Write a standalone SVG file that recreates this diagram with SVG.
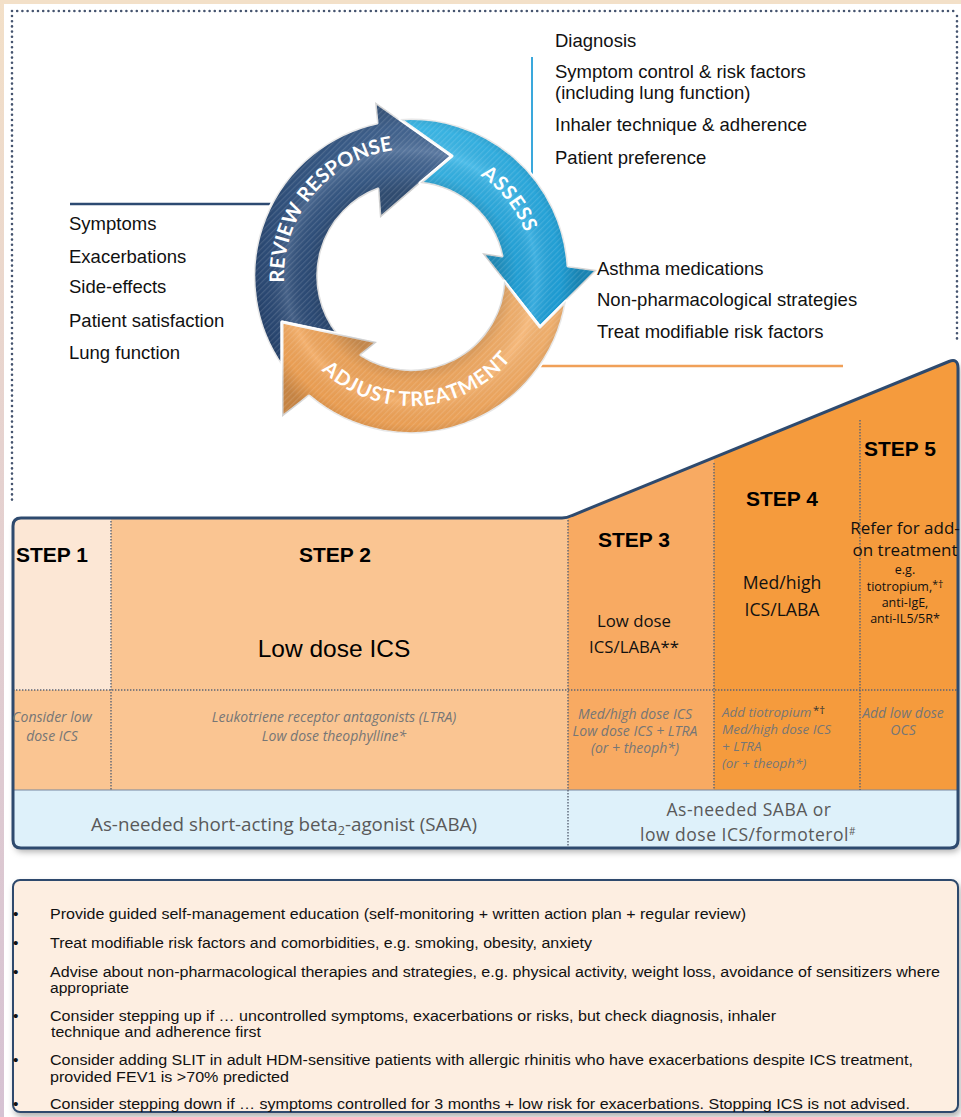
<svg xmlns="http://www.w3.org/2000/svg" width="961" height="1117" viewBox="0 0 961 1117">
<defs>
<style>
.dots{fill:none;stroke:#45546f;stroke-width:2.6;stroke-linecap:round;stroke-dasharray:0 5.2}
.div{fill:none;stroke:#5b6475;stroke-width:1.4;stroke-dasharray:1.4 1.6}
.lst{font-family:"Liberation Sans",Arial,sans-serif;font-size:18.5px;fill:#111}
.step{font-family:"Liberation Sans",Arial,sans-serif;font-weight:bold;font-size:21px;fill:#000;text-anchor:middle}
.cal{font-family:"Open Sans","Liberation Sans",sans-serif;fill:#111;text-anchor:middle}
.it{font-family:"Open Sans","Liberation Sans",sans-serif;font-style:italic;font-size:14px;fill:#767676;text-anchor:middle}
.it4{font-family:"Open Sans","Liberation Sans",sans-serif;font-style:italic;font-size:13.4px;fill:#767676}
.saba{font-family:"Open Sans","Liberation Sans",sans-serif;font-size:18.8px;fill:#595959;text-anchor:middle}
.saba2{font-family:"Open Sans","Liberation Sans",sans-serif;font-size:17.5px;letter-spacing:0.5px;fill:#595959;text-anchor:middle}
.ring{font-family:Lato,"Open Sans",sans-serif;font-weight:bold;font-size:20px;fill:#fff}
.bul{font-family:"Liberation Sans",Arial,sans-serif;font-size:15.5px;fill:#111}
.edge{stroke:#fff;stroke-width:3;stroke-linejoin:round}
</style>
<linearGradient id="gDark" x1="0" y1="1" x2="1" y2="0">
<stop offset="0" stop-color="#26436e"/>
<stop offset="0.6" stop-color="#375a87"/>
<stop offset="1" stop-color="#4d6e9a"/>
</linearGradient>
<linearGradient id="gCyan" x1="0" y1="0" x2="1" y2="1">
<stop offset="0" stop-color="#40bdec"/>
<stop offset="1" stop-color="#1699d4"/>
</linearGradient>
<linearGradient id="gOrange" x1="1" y1="0" x2="0" y2="1">
<stop offset="0" stop-color="#f7b877"/>
<stop offset="1" stop-color="#ee9c4c"/>
</linearGradient>
<linearGradient id="gEdge" x1="0" y1="0" x2="0" y2="1">
<stop offset="0" stop-color="#f3e0c8"/>
<stop offset="0.4" stop-color="#e6d2cf"/>
<stop offset="1" stop-color="#d6c2d3"/>
</linearGradient>
<radialGradient id="bevel" gradientUnits="userSpaceOnUse" cx="411" cy="276" r="190">
<stop offset="0.45" stop-color="#000" stop-opacity="0.2"/>
<stop offset="0.56" stop-color="#000" stop-opacity="0.04"/>
<stop offset="0.66" stop-color="#fff" stop-opacity="0.12"/>
<stop offset="0.78" stop-color="#000" stop-opacity="0.03"/>
<stop offset="0.88" stop-color="#000" stop-opacity="0.18"/>
</radialGradient>
<pattern id="stripes" patternUnits="userSpaceOnUse" width="4" height="4" patternTransform="rotate(45)">
<rect width="1.2" height="4" fill="#fff" fill-opacity="0.13"/>
</pattern>
<filter id="shadow" x="-5%" y="-5%" width="110%" height="120%">
<feDropShadow dx="2" dy="4" stdDeviation="3" flood-color="#000" flood-opacity="0.3"/>
</filter>
<path id="stepShape" d="M 13 526 Q 13 518 21 518 L 562 518 Q 567 518 572 515.5 L 949 361.5 Q 958 358 958 368 L 958 840 Q 958 848 950 848 L 21 848 Q 13 848 13 840 Z"/>
<clipPath id="stepClip"><use href="#stepShape"/></clipPath>
<path id="arrowReview" d="M 282 366 A 157 157 0 0 1 377 123 L 375 102 L 452 156 L 380 218 L 378 189 A 93 93 0 0 0 338 334 L 282 322 Z"/>
<path id="arrowAssess" d="M 400 119 A 157 157 0 0 1 568 266 L 597 270 L 540 327 L 482 253 L 502 256 A 93 93 0 0 0 420 183 L 452 156 Z"/>
<path id="arrowAdjust" d="M 566 301 A 157 157 0 0 1 309 396 L 282 417 L 282 322 L 377 342 L 361 355 A 93 93 0 0 0 504 281 L 540 327 Z"/>
<path id="pReview" d="M 291.7 319.4 A 127 127 0 0 1 430.9 150.6" fill="none"/>
<path id="pAssess" d="M 456.7 162.9 A 122 122 0 0 1 531.8 259" fill="none"/>
<path id="pAdjust" d="M 297.3 339 A 130 130 0 0 0 531.5 324.7" fill="none"/>
</defs>

<!-- page background and edge tint -->
<rect width="961" height="1117" fill="#fff"/>
<rect x="0" y="0" width="961" height="4" fill="#f3e0c8"/>
<rect x="0" y="0" width="4" height="1117" fill="url(#gEdge)"/>

<!-- dotted frame around the cycle -->
<g id="frame">
<path class="dots" d="M 12 11 L 957 11"/>
<path class="dots" d="M 12 16 L 12 502"/>
<path class="dots" d="M 957 16 L 957 340"/>
</g>

<!-- connectors from the cycle to the lists -->
<g id="connectors">
<line x1="70" y1="204" x2="272" y2="204" stroke="#2d4a72" stroke-width="2.5"/>
<line x1="532" y1="57" x2="532" y2="177" stroke="#3aa8dc" stroke-width="2"/>
<line x1="540" y1="366" x2="843" y2="366" stroke="#f0a058" stroke-width="2.5"/>
</g>

<!-- management cycle -->
<g id="review-response">
<use href="#arrowReview" fill="url(#gDark)" class="edge"/>
<use href="#arrowReview" fill="url(#bevel)"/>
<use href="#arrowReview" fill="url(#stripes)"/>
<text class="ring" letter-spacing="0.3"><textPath href="#pReview" startOffset="50%" text-anchor="middle">REVIEW RESPONSE</textPath></text>
</g>
<g id="assess">
<use href="#arrowAssess" fill="url(#gCyan)" class="edge"/>
<use href="#arrowAssess" fill="url(#bevel)"/>
<use href="#arrowAssess" fill="url(#stripes)"/>
<text class="ring" letter-spacing="0.8"><textPath href="#pAssess" startOffset="50%" text-anchor="middle">ASSESS</textPath></text>
</g>
<g id="adjust-treatment">
<use href="#arrowAdjust" fill="url(#gOrange)" class="edge"/>
<use href="#arrowAdjust" fill="url(#bevel)"/>
<use href="#arrowAdjust" fill="url(#stripes)"/>
<text class="ring" letter-spacing="1"><textPath href="#pAdjust" startOffset="50%" text-anchor="middle">ADJUST TREATMENT</textPath></text>
</g>

<!-- lists beside the cycle -->
<g id="assess-list" class="lst">
<text x="555" y="47">Diagnosis</text>
<text x="555" y="78">Symptom control &amp; risk factors</text>
<text x="555" y="99">(including lung function)</text>
<text x="555" y="131">Inhaler technique &amp; adherence</text>
<text x="555" y="164">Patient preference</text>
</g>
<g id="review-list" class="lst">
<text x="69" y="230">Symptoms</text>
<text x="69" y="263">Exacerbations</text>
<text x="69" y="293">Side-effects</text>
<text x="69" y="327">Patient satisfaction</text>
<text x="69" y="359">Lung function</text>
</g>
<g id="adjust-list" class="lst">
<text x="597" y="275">Asthma medications</text>
<text x="597" y="306">Non-pharmacological strategies</text>
<text x="597" y="338">Treat modifiable risk factors</text>
</g>

<!-- stepwise treatment staircase -->
<g id="steps">
<use href="#stepShape" fill="#fff" filter="url(#shadow)"/>
<g clip-path="url(#stepClip)">
<rect x="13" y="518" width="98" height="172" fill="#fce7d5"/>
<rect x="111" y="518" width="457" height="172" fill="#fac592"/>
<rect x="13" y="690" width="555" height="100" fill="#fac592"/>
<rect x="568" y="350" width="146" height="440" fill="#f8aa62"/>
<rect x="714" y="350" width="247" height="440" fill="#f59b3d"/>
<rect x="13" y="790" width="948" height="60" fill="#def1fa"/>
<line x1="13" y1="790" x2="958" y2="790" stroke="#7788a0" stroke-width="1"/>
<path class="div" d="M 13 690 L 958 690"/>
<path class="div" d="M 111 521 L 111 790"/>
<path class="div" d="M 568 520 L 568 848"/>
<path class="div" d="M 714 463 L 714 790"/>
<path class="div" d="M 860 420 L 860 790"/>
</g>
<use href="#stepShape" fill="none" stroke="#2e4a6e" stroke-width="3"/>
</g>

<g id="step1">
<text class="step" x="16" y="562" style="text-anchor:start">STEP 1</text>
<text class="it" x="52" y="722">Consider low</text>
<text class="it" x="52" y="741">dose ICS</text>
</g>
<g id="step2">
<text class="step" x="335" y="562">STEP 2</text>
<text x="334" y="657" font-family="Liberation Sans, Arial, sans-serif" font-size="24.5" fill="#000" text-anchor="middle">Low dose ICS</text>
<text class="it" x="334" y="722">Leukotriene receptor antagonists (LTRA)</text>
<text class="it" x="334" y="741">Low dose theophylline*</text>
</g>
<g id="step3">
<text class="step" x="634" y="547">STEP 3</text>
<text class="cal" x="634" y="627" font-size="16.8">Low dose</text>
<text class="cal" x="634" y="653" font-size="16.8">ICS/LABA**</text>
<text class="it" x="635" y="719">Med/high dose ICS</text>
<text class="it" x="635" y="736">Low dose ICS + LTRA</text>
<text class="it" x="635" y="753">(or + theoph*)</text>
</g>
<g id="step4">
<text class="step" x="782" y="506">STEP 4</text>
<text class="cal" x="782" y="589" font-size="17.6">Med/high</text>
<text class="cal" x="782" y="616" font-size="17.6">ICS/LABA</text>
<text class="it4" x="722" y="717">Add tiotropium</text>
<text x="813" y="714" font-family="Open Sans, Liberation Sans, sans-serif" font-size="11.5" fill="#333">*†</text>
<text class="it4" x="722" y="734">Med/high dose ICS</text>
<text class="it4" x="722" y="751">+ LTRA</text>
<text class="it4" x="722" y="768">(or + theoph*)</text>
</g>
<g id="step5">
<text class="step" x="900" y="456">STEP 5</text>
<text class="cal" x="905" y="534" font-size="17">Refer for add-</text>
<text class="cal" x="905" y="556" font-size="17">on treatment</text>
<text class="cal" x="905" y="574" font-size="12.5">e.g.</text>
<text class="cal" x="905" y="591" font-size="12.5">tiotropium,<tspan font-size="10.5" dy="-3">*†</tspan></text>
<text class="cal" x="905" y="607" font-size="12.5">anti-IgE,</text>
<text class="cal" x="905" y="623" font-size="12.5">anti-IL5/5R*</text>
<text class="it" x="903" y="718">Add low dose</text>
<text class="it" x="903" y="735">OCS</text>
</g>
<g id="reliever">
<text class="saba" x="284" y="831">As-needed short-acting beta<tspan font-size="12.5" dy="4">2</tspan><tspan dy="-4">-agonist (SABA)</tspan></text>
<text class="saba2" x="749" y="816">As-needed SABA or</text>
<text class="saba2" x="748" y="841">low dose ICS/formoterol<tspan font-size="10" dy="-6">#</tspan></text>
</g>

<!-- general recommendations -->
<g id="recommendations">
<rect x="13" y="880" width="945" height="232" rx="7" fill="#fdeee1" stroke="#2f4a6d" stroke-width="2" filter="url(#shadow)"/>
<g class="bul">
<text x="13" y="919">•</text>
<text x="13" y="948">•</text>
<text x="13" y="977">•</text>
<text x="13" y="1021">•</text>
<text x="13" y="1065">•</text>
<text x="13" y="1109">•</text>
<text x="50" y="919" textLength="696" lengthAdjust="spacingAndGlyphs">Provide guided self-management education (self-monitoring + written action plan + regular review)</text>
<text x="50" y="948" textLength="542" lengthAdjust="spacingAndGlyphs">Treat modifiable risk factors and comorbidities, e.g. smoking, obesity, anxiety</text>
<text x="50" y="977" textLength="890" lengthAdjust="spacingAndGlyphs">Advise about non-pharmacological therapies and strategies, e.g. physical activity, weight loss, avoidance of sensitizers where</text>
<text x="50" y="993" textLength="79" lengthAdjust="spacingAndGlyphs">appropriate</text>
<text x="50" y="1021" textLength="726" lengthAdjust="spacingAndGlyphs">Consider stepping up if … uncontrolled symptoms, exacerbations or risks, but check diagnosis, inhaler</text>
<text x="51" y="1037" textLength="210" lengthAdjust="spacingAndGlyphs">technique and adherence first</text>
<text x="50" y="1065" textLength="863" lengthAdjust="spacingAndGlyphs">Consider adding SLIT in adult HDM-sensitive patients with allergic rhinitis who have exacerbations despite ICS treatment,</text>
<text x="50" y="1082" textLength="239" lengthAdjust="spacingAndGlyphs">provided FEV1 is &gt;70% predicted</text>
<text x="50" y="1109" textLength="860" lengthAdjust="spacingAndGlyphs">Consider stepping down if … symptoms controlled for 3 months + low risk for exacerbations. Stopping ICS is not advised.</text>
</g>
</g>
</svg>
